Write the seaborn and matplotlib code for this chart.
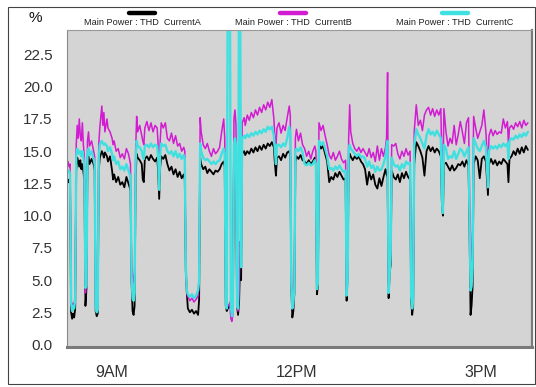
import numpy as np
import pandas as pd
import seaborn as sns
import matplotlib.pyplot as plt
import matplotlib.dates as mdates
from matplotlib.ticker import MultipleLocator, FuncFormatter
from matplotlib.lines import Line2D
from matplotlib.patches import Rectangle

# readings, one per sample time (values above the axis top are clipped spikes)
times = [
    '08:17', '08:18', '08:19', '08:20', '08:21', '08:22', '08:23', '08:24',
    '08:25', '08:26', '08:27', '08:28', '08:29', '08:30', '08:31', '08:32',
    '08:33', '08:34', '08:35', '08:36', '08:37', '08:38', '08:40', '08:42',
    '08:43', '08:44', '08:45', '08:46', '08:47', '08:48', '08:50', '08:51',
    '08:52', '08:53', '08:55', '08:56', '08:58', '09:00', '09:01', '09:02',
    '09:04', '09:06', '09:08', '09:10', '09:12', '09:14', '09:16', '09:18',
    '09:19', '09:20', '09:21', '09:22', '09:23', '09:24', '09:25', '09:27',
    '09:29', '09:30', '09:31', '09:32', '09:34', '09:36', '09:38', '09:40',
    '09:42', '09:44', '09:45', '09:46', '09:47', '09:48', '09:50', '09:52',
    '09:54', '09:56', '09:58', '10:00', '10:02', '10:04', '10:06', '10:08',
    '10:10', '10:11', '10:12', '10:13', '10:14', '10:16', '10:18', '10:20',
    '10:22', '10:24', '10:25', '10:26', '10:27', '10:29', '10:31', '10:33',
    '10:35', '10:37', '10:39', '10:41', '10:43', '10:45', '10:47', '10:49',
    '10:50', '10:51', '10:52', '10:53', '10:55', '10:56', '10:57', '10:58',
    '10:59', '11:00', '11:01', '11:02', '11:03', '11:04', '11:05', '11:06',
    '11:07', '11:09', '11:10', '11:12', '11:14', '11:16', '11:18', '11:20',
    '11:22', '11:24', '11:26', '11:28', '11:30', '11:32', '11:34', '11:36',
    '11:38', '11:39', '11:40', '11:41', '11:43', '11:45', '11:47', '11:49',
    '11:51', '11:53', '11:54', '11:55', '11:56', '11:57', '11:58', '11:59',
    '12:00', '12:02', '12:04', '12:06', '12:08', '12:10', '12:12', '12:14',
    '12:16', '12:18', '12:19', '12:20', '12:21', '12:22', '12:24', '12:26',
    '12:28', '12:30', '12:32', '12:34', '12:36', '12:38', '12:40', '12:42',
    '12:44', '12:46', '12:48', '12:49', '12:50', '12:51', '12:52', '12:53',
    '12:55', '12:57', '12:59', '13:01', '13:03', '13:05', '13:07', '13:09',
    '13:11', '13:13', '13:15', '13:17', '13:19', '13:21', '13:23', '13:25',
    '13:27', '13:28', '13:29', '13:30', '13:31', '13:32', '13:33', '13:35',
    '13:37', '13:39', '13:41', '13:43', '13:45', '13:47', '13:49', '13:51',
    '13:52', '13:53', '13:54', '13:55', '13:57', '13:59', '14:01', '14:03',
    '14:05', '14:07', '14:09', '14:11', '14:13', '14:15', '14:17', '14:19',
    '14:21', '14:22', '14:23', '14:24', '14:26', '14:28', '14:30', '14:32',
    '14:34', '14:36', '14:38', '14:40', '14:42', '14:44', '14:46', '14:48',
    '14:49', '14:50', '14:51', '14:52', '14:53', '14:55', '14:57', '14:59',
    '15:01', '15:03', '15:05', '15:07', '15:08', '15:10', '15:12', '15:14',
    '15:16', '15:18', '15:20', '15:22', '15:24', '15:26', '15:27', '15:28',
    '15:30', '15:32', '15:34', '15:36', '15:38', '15:40', '15:42', '15:44',
    '15:46',
]

thd_a = [
    12.6, 12.8, 12.4, 2.5, 2.0, 2.4, 2.1, 2.8,
    13.5, 14.5, 14.2, 13.8, 14.3, 13.6, 14.0, 13.4,
    12.8, 3.0, 4.3, 14.0, 14.6, 14.0, 14.4, 14.0,
    13.5, 2.6, 2.2, 2.4, 13.5, 14.5, 15.0, 14.8,
    14.5, 14.9, 14.6, 14.2, 14.6, 13.5, 12.8, 13.2,
    12.6, 13.0, 12.4, 12.6, 12.2, 13.0, 12.5, 12.0,
    5.0, 2.6, 2.3, 3.0, 13.0, 14.8, 14.5, 14.3,
    14.0, 12.8, 12.6, 14.4, 14.6, 14.3, 14.7, 14.4,
    14.2, 14.5, 13.5, 11.3, 13.8, 14.6, 14.4, 14.7,
    14.0, 13.5, 13.8, 13.2, 13.6, 13.0, 13.4, 12.9,
    13.2, 12.8, 5.7, 4.0, 2.8, 2.5, 2.7, 2.4,
    2.6, 2.3, 3.5, 14.5, 14.0, 13.6, 13.8, 13.3,
    13.6, 13.4, 13.2, 13.5, 13.4, 13.6, 14.0, 14.2,
    13.8, 3.0, 2.6, 2.8, 3.0, 3.4, 2.4, 2.8,
    14.5, 15.0, 14.6, 3.0, 2.3, 3.2, 6.5, 5.0,
    14.8, 15.0, 14.7, 15.0, 14.8, 15.2, 14.9, 15.3,
    15.0, 15.4, 15.1, 15.5, 15.2, 15.6, 15.4, 15.7,
    15.3, 14.0, 13.1, 14.5, 14.6, 14.3, 14.8, 14.5,
    14.9, 15.0, 14.6, 4.5, 2.1, 2.6, 4.0, 14.2,
    14.6, 14.4, 14.7, 14.3, 14.2, 14.0, 14.3, 14.0,
    14.2, 14.5, 14.0, 3.9, 4.5, 15.7, 15.2, 15.4,
    14.8, 14.2, 12.6, 13.0, 12.8, 13.3, 13.0, 13.4,
    13.1, 12.8, 12.9, 3.4, 5.5, 14.0, 14.8, 14.6,
    14.3, 14.6, 14.4, 14.6, 14.2, 14.0, 13.6, 12.4,
    13.4, 12.8, 13.2, 12.4, 12.1, 12.9, 12.3, 13.0,
    13.6, 13.2, 13.0, 3.6, 5.5, 6.2, 13.5, 13.0,
    12.8, 13.2, 12.6, 13.3, 12.9, 13.4, 13.0, 12.8,
    3.5, 2.3, 3.0, 14.0, 15.7, 15.4, 15.0, 14.5,
    13.1, 15.0, 15.4, 15.0, 15.3, 14.9, 15.2, 15.0,
    14.6, 11.0, 10.0, 14.0, 14.1, 13.8, 13.5, 13.9,
    13.5, 13.7, 14.0, 13.9, 14.2, 13.8, 14.3, 13.9,
    9.0, 2.3, 3.0, 4.5, 14.0, 14.6, 14.3, 12.9,
    14.4, 14.6, 14.2, 11.6, 14.0, 14.4, 14.0, 14.3,
    13.9, 14.2, 14.0, 14.4, 14.2, 14.0, 12.6, 14.4,
    14.6, 15.0, 14.7, 15.2, 14.8, 15.3, 14.9, 15.4,
    15.1,
]

thd_b = [
    14.2, 13.8, 14.0, 3.5, 2.8, 3.2, 3.0, 4.0,
    15.5, 17.0, 16.0, 17.5, 16.2, 15.8, 17.2, 15.5,
    14.5, 4.0, 4.8, 15.8, 16.5, 15.4, 15.8, 15.0,
    14.6, 3.0, 2.6, 2.8, 15.5, 16.8, 18.5, 17.0,
    18.0, 16.5, 17.5, 16.8, 16.5, 16.0, 15.5, 15.8,
    15.0, 15.2, 14.5, 14.8, 14.4, 15.2, 14.8, 14.0,
    6.0, 5.5, 4.8, 5.5, 15.0, 17.7, 16.5, 17.0,
    16.2, 15.8, 15.5, 16.8, 17.3, 16.6, 17.2, 16.5,
    17.0, 16.8, 15.5, 12.5, 15.8, 17.2, 16.8, 17.2,
    16.0, 15.8, 16.4, 15.6, 16.2, 15.4, 15.6, 15.0,
    15.3, 15.0, 6.5, 4.0, 3.7, 3.4, 3.6, 3.3,
    3.5, 3.8, 5.2, 17.6, 16.5, 15.5, 15.2, 15.6,
    15.0, 14.6, 15.2, 14.8, 15.0, 15.3, 16.5, 17.5,
    16.0, 3.4, 2.9, 3.0, 3.2, 2.0, 1.8, 2.4,
    17.5, 18.2, 17.0, 3.0, 2.6, 4.0, 8.0, 7.0,
    17.2, 17.6, 17.0, 17.8, 17.4, 18.0, 17.6, 18.2,
    17.8, 18.4, 18.0, 18.6, 18.2, 18.8, 18.4, 19.0,
    17.5, 16.0, 15.5, 16.8, 17.2, 16.4, 17.0, 16.6,
    17.6, 18.5, 17.8, 5.0, 3.0, 3.4, 4.6, 16.0,
    16.7, 15.8, 16.4, 15.5, 15.2, 14.6, 15.0, 14.4,
    15.0, 15.4, 15.0, 4.5, 5.0, 17.2, 16.6, 17.0,
    16.2, 15.5, 14.7, 14.4, 14.9, 14.3, 14.6, 15.0,
    14.4, 14.1, 14.3, 4.0, 5.5, 16.0, 18.6, 16.5,
    15.6, 15.2, 15.0, 15.3, 14.9, 15.2, 14.9, 14.6,
    15.2, 14.5, 14.9, 14.2, 15.4, 14.3, 15.2, 14.6,
    15.3, 16.0, 21.1, 5.0, 6.0, 7.5, 15.5, 15.4,
    15.6, 14.8, 14.4, 15.0, 14.6, 15.2, 14.7, 15.0,
    4.0, 3.0, 3.6, 16.5, 18.6, 17.0, 17.4, 16.6,
    17.8, 18.2, 18.4, 17.8, 18.3, 17.7, 18.2, 17.8,
    18.3, 14.0, 12.5, 18.3, 16.5, 15.4, 16.0, 15.6,
    17.0, 15.5, 16.3, 17.3, 16.5, 15.6, 17.2, 17.6,
    12.0, 7.5, 6.5, 9.0, 17.7, 16.8, 16.0, 16.5,
    17.0, 18.2, 16.5, 13.5, 16.2, 16.7, 16.2, 16.6,
    16.3, 16.5, 16.4, 17.5, 16.8, 17.3, 15.5, 16.8,
    17.0, 16.7, 17.2, 16.9, 17.3, 16.8, 17.4, 17.0,
    17.2,
]

thd_c = [
    13.4, 13.5, 13.2, 3.2, 2.6, 3.0, 2.8, 3.5,
    14.5, 15.2, 15.0, 14.8, 15.0, 14.6, 15.0, 14.5,
    13.8, 4.4, 4.6, 14.8, 15.2, 14.7, 15.0, 14.4,
    14.0, 2.9, 2.5, 2.7, 14.5, 15.5, 15.8, 15.6,
    15.5, 15.6, 15.4, 15.0, 15.3, 14.8, 14.3, 14.6,
    14.0, 14.2, 13.6, 13.8, 13.5, 14.0, 13.5, 13.0,
    5.5, 3.6, 3.4, 4.0, 14.0, 15.8, 15.4, 15.3,
    15.0, 14.6, 14.4, 15.4, 15.5, 15.3, 15.6, 15.3,
    15.5, 15.4, 14.5, 12.0, 14.8, 15.6, 15.4, 15.5,
    15.0, 14.8, 15.0, 14.6, 15.0, 14.5, 14.8, 14.4,
    14.7, 14.4, 6.0, 4.2, 3.9, 3.7, 3.9, 3.6,
    3.8, 4.2, 5.0, 15.6, 15.0, 14.5, 14.3, 14.4,
    14.2, 14.0, 14.2, 14.0, 14.2, 14.3, 14.8, 15.2,
    14.8, 3.2, 2.8, 30.0, 30.0, 3.0, 2.2, 2.6,
    15.5, 16.0, 15.4, 3.0, 2.8, 30.0, 30.0, 6.0,
    16.0, 16.2, 16.0, 16.3, 16.1, 16.4, 16.2, 16.5,
    16.3, 16.6, 16.4, 16.7, 16.5, 16.9, 16.7, 16.9,
    16.2, 15.0, 14.0, 15.5, 15.5, 15.3, 15.6, 15.4,
    16.0, 16.9, 16.3, 4.8, 2.8, 3.2, 4.4, 15.0,
    15.2, 15.0, 15.3, 14.9, 14.0, 13.9, 14.1, 13.9,
    14.0, 14.3, 14.0, 4.3, 4.8, 15.8, 15.5, 15.7,
    15.2, 14.6, 13.6, 13.7, 13.5, 13.8, 13.6, 13.9,
    13.6, 13.4, 13.5, 3.8, 5.0, 15.0, 15.5, 15.2,
    15.0, 14.8, 14.6, 14.8, 14.5, 14.6, 14.4, 13.8,
    14.2, 13.7, 13.9, 13.4, 13.8, 13.5, 13.6, 14.0,
    14.6, 15.4, 15.8, 4.0, 5.5, 7.0, 14.5, 14.0,
    13.8, 13.9, 13.5, 14.0, 13.7, 14.2, 14.0, 14.1,
    3.8, 2.8, 3.4, 15.4, 16.7, 16.3, 16.0, 15.6,
    15.2, 16.2, 16.7, 16.3, 16.5, 16.2, 16.6, 16.3,
    16.0, 11.5, 10.2, 15.5, 15.2, 14.4, 14.6, 14.5,
    15.0, 14.4, 14.8, 15.2, 15.0, 14.6, 15.0, 15.3,
    10.0, 4.2, 4.5, 6.0, 16.0, 15.6, 15.2, 15.0,
    15.4, 15.8, 15.3, 12.2, 15.0, 15.4, 15.2, 15.4,
    15.2, 15.5, 15.3, 15.6, 15.4, 15.6, 14.4, 15.8,
    16.0, 15.9, 16.2, 16.0, 16.3, 16.1, 16.4, 16.2,
    16.5,
]

series_names = ['Main Power : THD  CurrentA', 'Main Power : THD  CurrentB',
                'Main Power : THD  CurrentC']
series_colors = ['#000000', '#d21cd2', '#40e0e0']
line_widths = [1.3, 1.1, 1.7]

assert len(times) == len(thd_a) == len(thd_b) == len(thd_c)

day = '2019-09-09 '
df = pd.DataFrame({'time': pd.to_datetime([day + t for t in times]),
                   'A': thd_a, 'B': thd_b, 'C': thd_c})

sns.set_style('white')
plt.rcParams['font.family'] = ['Liberation Sans', 'DejaVu Sans']

W, H = 536, 387
fig = plt.figure(figsize=(W / 100, H / 100), dpi=100)
ax = fig.add_axes([67 / W, 1 - 346.5 / H, (532 - 67) / W, (346.5 - 30) / H])
ax.set_facecolor('#d4d4d4')

for col, color, lw in zip(['A', 'B', 'C'], series_colors, line_widths):
    sns.lineplot(data=df, x='time', y=col, color=color, linewidth=lw,
                 estimator=None, sort=False, ax=ax)

ax.set_xlim(pd.Timestamp(day + '08:16'), pd.Timestamp(day + '15:50'))
ax.set_ylim(-0.15, 24.4)
ax.set_xlabel('')
ax.set_ylabel('')


def hour_label(v, pos):
    h = mdates.num2date(v).hour
    return '%d%s' % (h % 12 or 12, 'AM' if h < 12 else 'PM')


ax.xaxis.set_major_locator(mdates.HourLocator(byhour=[9, 12, 15]))
ax.xaxis.set_minor_locator(mdates.HourLocator(byhour=[10, 11, 13, 14]))
ax.xaxis.set_major_formatter(FuncFormatter(hour_label))
ax.yaxis.set_major_locator(MultipleLocator(2.5))
ax.yaxis.set_minor_locator(MultipleLocator(2.5 / 8))
ax.yaxis.set_major_formatter(FuncFormatter(lambda v, p: '%.1f' % v))

ax.tick_params(axis='x', which='major', direction='inout', length=17, width=0.9,
               color='#888888', labelsize=11.5, labelcolor='#333333', pad=5)
ax.tick_params(axis='x', which='minor', direction='in', length=5, width=0.9,
               color='#888888')
ax.tick_params(axis='y', which='major', direction='inout', length=13, width=0.8,
               color='#666666', labelsize=11, labelcolor='#333333', pad=4)
ax.tick_params(axis='y', which='minor', direction='in', length=5.5, width=0.6,
               color='#777777')

ax.spines['left'].set_color('#888888')
ax.spines['left'].set_linewidth(0.8)
ax.spines['top'].set_color('#999999')
ax.spines['top'].set_linewidth(0.8)
ax.spines['right'].set_color('#7a7a7a')
ax.spines['right'].set_linewidth(1.6)
ax.spines['bottom'].set_color('#7a7a7a')
ax.spines['bottom'].set_linewidth(2.2)

# legend: colour bar above each label
for name, color, cx in zip(series_names, series_colors, [142, 293, 455]):
    fig.add_artist(Line2D([(cx - 13) / W, (cx + 13) / W], [1 - 13 / H, 1 - 13 / H],
                          color=color, linewidth=3.2, transform=fig.transFigure))
    fig.text(cx / W, 1 - 22.5 / H, name, ha='center', va='center',
             fontsize=6.6, color='#222222')

fig.text(35 / W, 1 - 18 / H, '%', ha='center', va='center', fontsize=11,
         color='#111111')

fig.add_artist(Rectangle((8 / W, 3 / H), (535 - 8) / W, (380 - 3) / H, fill=False,
                         edgecolor='#444444', linewidth=0.8,
                         transform=fig.transFigure))

fig.savefig('out.png', dpi=100)
